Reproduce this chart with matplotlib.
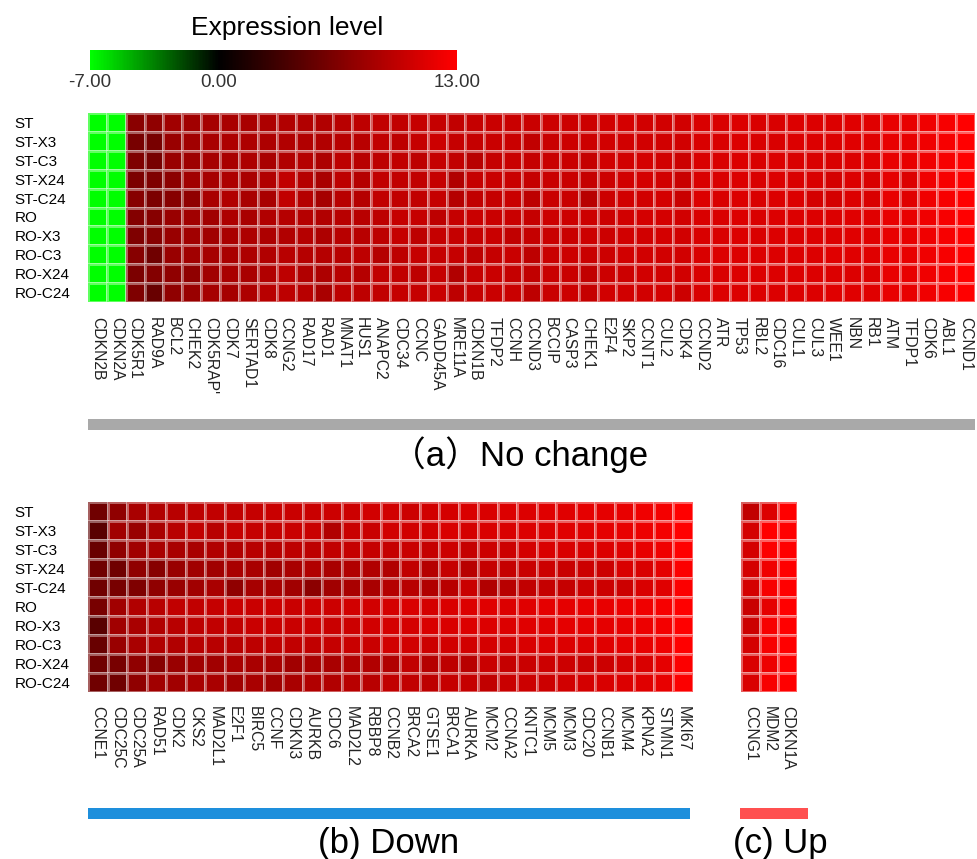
import numpy as np
import matplotlib
matplotlib.use("Agg")
import matplotlib.pyplot as plt
from matplotlib.colors import LinearSegmentedColormap, Normalize
from matplotlib.cm import ScalarMappable
from matplotlib.patches import Rectangle

plt.rcParams['font.family'] = ['Liberation Sans', 'Noto Sans CJK SC', 'DejaVu Sans']

samples = ["ST", "ST-X3", "ST-C3", "ST-X24", "ST-C24",
           "RO", "RO-X3", "RO-C3", "RO-X24", "RO-C24"]

# ---- (a) No change : gene -> values for the 10 samples ----
genes_a = ["CDKN2B", "CDKN2A", "CDK5R1", "RAD9A", "BCL2", "CHEK2", "CDK5RAP'", "CDK7",
           "SERTAD1", "CDK8", "CCNG2", "RAD17", "RAD1", "MNAT1", "HUS1", "ANAPC2",
           "CDC34", "CCNC", "GADD45A", "MRE11A", "CDKN1B", "TFDP2", "CCNH", "CCND3",
           "BCCIP", "CASP3", "CHEK1", "E2F4", "SKP2", "CCNT1", "CUL2", "CDK4",
           "CCND2", "ATR", "TP53", "RBL2", "CDC16", "CUL1", "CUL3", "WEE1", "NBN",
           "RB1", "ATM", "TFDP1", "CDK6", "ABL1", "CCND1"]
values_a = [
    [-7.0, -7.0, -7.0, -7.0, -7.0, -7.0, -7.0, -7.0, -7.0, -7.0],
    [-7.0, -7.0, -7.0, -7.0, -7.0, -7.0, -7.0, -7.0, -7.0, -7.0],
    [7.0, 6.1, 6.5, 6.3, 6.9, 6.7, 6.5, 6.9, 6.3, 6.5],
    [7.3, 6.1, 6.1, 6.5, 6.3, 6.9, 6.9, 5.7, 6.7, 5.3],
    [8.2, 7.8, 7.8, 7.1, 6.9, 7.8, 7.8, 7.8, 7.3, 7.3],
    [8.2, 8.2, 8.0, 8.2, 7.3, 8.2, 8.2, 8.2, 7.3, 7.8],
    [8.4, 8.6, 8.4, 8.4, 8.6, 8.2, 8.2, 8.4, 8.2, 8.4],
    [8.6, 8.8, 8.6, 8.8, 9.0, 8.8, 8.6, 8.6, 8.6, 8.4],
    [8.6, 8.8, 8.8, 8.6, 8.6, 8.6, 8.8, 8.8, 8.6, 8.8],
    [8.8, 8.8, 8.6, 9.0, 8.6, 9.0, 8.8, 9.0, 9.0, 9.4],
    [9.0, 9.0, 9.0, 9.8, 9.8, 9.2, 9.0, 9.4, 9.6, 9.6],
    [9.0, 9.0, 9.2, 9.2, 9.2, 9.2, 9.2, 9.2, 9.0, 9.4],
    [9.0, 9.0, 8.8, 8.6, 8.4, 9.0, 8.8, 9.2, 8.8, 8.6],
    [9.4, 9.4, 9.6, 9.6, 9.4, 9.4, 9.4, 9.4, 9.4, 9.6],
    [9.6, 9.4, 9.4, 9.2, 9.2, 9.4, 9.4, 9.6, 9.2, 9.6],
    [9.8, 9.8, 9.6, 9.8, 9.8, 9.6, 9.6, 9.2, 9.8, 9.8],
    [9.8, 9.6, 9.8, 9.8, 9.8, 10.0, 10.0, 9.6, 9.8, 10.0],
    [10.0, 10.0, 9.6, 9.8, 9.8, 10.0, 9.6, 10.0, 9.6, 10.0],
    [10.0, 10.4, 10.0, 10.0, 10.0, 9.6, 10.0, 10.0, 10.0, 10.2],
    [9.8, 10.0, 9.8, 9.0, 9.2, 10.0, 10.0, 10.0, 9.0, 9.6],
    [10.0, 10.0, 9.4, 10.0, 9.8, 10.2, 10.0, 9.6, 10.0, 10.0],
    [10.2, 10.2, 10.0, 10.2, 10.0, 10.2, 10.2, 10.0, 10.2, 10.2],
    [10.2, 10.2, 10.2, 10.2, 10.2, 10.2, 9.8, 10.2, 10.0, 10.2],
    [10.2, 9.8, 10.0, 10.0, 9.6, 10.0, 10.0, 9.6, 9.8, 9.6],
    [10.4, 10.2, 10.2, 10.2, 10.2, 10.4, 10.2, 10.2, 10.2, 10.2],
    [10.4, 10.4, 10.2, 10.2, 10.2, 10.4, 10.2, 10.4, 10.2, 10.4],
    [10.4, 10.4, 10.0, 10.0, 9.4, 10.4, 10.4, 10.2, 9.8, 10.0],
    [10.6, 10.6, 10.6, 10.4, 10.4, 10.4, 10.4, 10.4, 10.4, 10.6],
    [10.8, 10.6, 10.6, 10.6, 10.6, 10.6, 10.6, 10.6, 10.4, 10.6],
    [10.6, 10.6, 10.8, 10.8, 10.6, 10.8, 10.6, 10.6, 10.6, 10.6],
    [10.6, 10.6, 10.6, 10.6, 10.8, 10.8, 10.8, 10.6, 10.6, 10.8],
    [10.6, 10.6, 10.4, 10.2, 10.2, 10.6, 10.6, 10.6, 10.6, 10.4],
    [11.0, 11.0, 11.0, 11.0, 11.2, 11.0, 11.0, 11.0, 11.0, 11.0],
    [11.0, 11.0, 11.0, 11.0, 11.0, 11.0, 11.0, 11.2, 11.0, 11.2],
    [11.2, 11.2, 11.2, 11.2, 11.2, 11.2, 11.2, 11.2, 11.2, 11.2],
    [11.0, 11.0, 11.0, 11.0, 11.0, 11.0, 11.0, 11.2, 11.2, 11.2],
    [11.0, 11.0, 11.2, 11.2, 11.2, 11.2, 11.2, 11.2, 11.2, 11.2],
    [11.2, 11.2, 11.0, 11.0, 11.2, 11.2, 11.2, 11.2, 11.2, 11.2],
    [11.2, 11.2, 11.0, 11.0, 10.8, 11.2, 11.2, 11.2, 11.2, 11.2],
    [11.2, 11.2, 11.0, 10.8, 10.8, 11.2, 11.2, 11.4, 11.2, 11.4],
    [11.4, 11.4, 11.2, 11.2, 11.2, 11.4, 11.4, 11.4, 11.2, 11.4],
    [11.4, 11.4, 11.4, 11.0, 11.0, 11.4, 11.4, 11.4, 11.2, 11.4],
    [11.8, 11.8, 11.8, 11.6, 11.8, 11.8, 11.8, 11.8, 11.8, 11.8],
    [11.8, 11.8, 11.8, 11.2, 11.4, 11.8, 11.8, 11.8, 11.8, 11.8],
    [12.2, 12.2, 12.2, 12.2, 12.2, 12.2, 12.2, 12.2, 12.2, 12.2],
    [12.6, 12.6, 12.6, 12.6, 12.6, 12.6, 12.6, 12.6, 12.6, 12.6],
    [13.0, 13.0, 13.0, 13.0, 13.0, 13.0, 13.0, 13.0, 13.0, 13.0],
]

# ---- (b) Down ----
genes_b = ["CCNE1", "CDC25C", "CDC25A", "RAD51", "CDK2", "CKS2", "MAD2L1", "E2F1",
           "BIRC5", "CCNF", "CDKN3", "AURKB", "CDC6", "MAD2L2", "RBBP8", "CCNB2",
           "BRCA2", "GTSE1", "BRCA1", "AURKA", "MCM2", "CCNA2", "KNTC1", "MCM5",
           "MCM3", "CDC20", "CCNB1", "MCM4", "KPNA2", "STMN1", "MKI67"]
values_b = [
    [5.7, 4.5, 5.3, 5.7, 5.7, 6.1, 4.5, 5.3, 5.7, 5.7],
    [7.3, 8.2, 7.3, 5.7, 6.1, 8.2, 8.2, 7.8, 6.1, 5.7],
    [8.6, 7.8, 8.2, 7.3, 6.5, 9.0, 8.6, 8.6, 7.3, 7.3],
    [9.0, 8.6, 8.6, 6.9, 7.3, 9.4, 9.0, 9.0, 6.9, 8.2],
    [9.4, 9.4, 8.6, 7.8, 7.8, 9.8, 9.4, 9.0, 7.8, 8.2],
    [9.6, 9.8, 8.6, 8.2, 8.2, 9.8, 9.6, 9.4, 8.2, 8.6],
    [9.8, 9.4, 9.0, 8.2, 8.6, 10.0, 9.8, 9.4, 8.2, 8.6],
    [9.8, 10.0, 9.0, 8.6, 7.3, 10.2, 9.8, 9.4, 8.6, 8.2],
    [10.0, 10.0, 9.4, 8.6, 8.4, 10.2, 10.2, 9.6, 8.6, 8.6],
    [10.2, 10.0, 9.4, 8.2, 8.6, 10.4, 10.2, 9.8, 8.6, 8.2],
    [10.2, 10.2, 9.6, 8.6, 8.2, 10.2, 10.2, 9.8, 8.2, 8.6],
    [10.2, 10.2, 9.6, 9.0, 7.1, 10.4, 10.4, 9.8, 8.6, 9.0],
    [10.4, 9.0, 9.8, 8.6, 8.2, 10.4, 10.2, 10.0, 8.6, 9.0],
    [10.4, 10.2, 10.0, 9.0, 8.6, 10.6, 10.4, 10.2, 9.0, 9.4],
    [10.6, 10.2, 10.0, 9.0, 8.6, 10.6, 10.6, 10.2, 9.0, 9.4],
    [10.6, 10.6, 10.0, 9.0, 9.2, 10.8, 10.8, 10.6, 9.0, 9.8],
    [10.4, 10.6, 10.2, 9.8, 9.4, 11.0, 10.8, 10.6, 9.8, 9.8],
    [10.6, 10.6, 10.0, 9.2, 9.0, 10.8, 11.0, 10.4, 9.2, 9.6],
    [10.8, 11.0, 10.4, 10.0, 9.4, 11.0, 11.0, 10.6, 9.6, 10.0],
    [11.0, 10.8, 10.0, 9.4, 10.2, 11.2, 11.2, 10.6, 9.4, 10.0],
    [11.0, 11.0, 10.4, 10.0, 9.0, 11.4, 11.2, 10.8, 10.2, 9.8],
    [11.2, 11.0, 10.4, 10.0, 9.4, 11.2, 11.2, 10.8, 10.0, 10.2],
    [11.2, 11.2, 10.8, 10.2, 9.8, 11.4, 11.4, 11.0, 10.2, 10.4],
    [11.4, 11.2, 11.0, 10.4, 10.0, 11.6, 11.4, 11.2, 10.4, 10.4],
    [11.4, 11.4, 11.0, 10.2, 10.0, 11.6, 11.6, 11.2, 10.4, 10.6],
    [11.6, 11.4, 11.0, 10.4, 10.4, 11.8, 11.6, 11.2, 10.2, 10.8],
    [11.6, 11.6, 11.2, 10.4, 10.4, 11.8, 11.6, 11.4, 10.4, 11.0],
    [11.8, 11.8, 11.4, 11.0, 10.4, 12.0, 11.8, 11.6, 10.8, 11.2],
    [12.2, 12.0, 11.8, 11.0, 11.0, 12.2, 12.0, 11.8, 11.0, 11.4],
    [12.4, 12.4, 12.2, 11.6, 11.4, 12.6, 12.4, 12.2, 11.6, 11.8],
    [13.0, 13.0, 13.0, 12.8, 12.8, 13.0, 13.0, 13.0, 12.8, 12.8],
]

# ---- (c) Up ----
genes_c = ["CCNG1", "MDM2", "CDKN1A"]
values_c = [
    [9.8, 10.8, 10.8, 10.8, 10.8, 10.2, 10.4, 10.8, 11.0, 11.0],
    [11.2, 13.0, 12.8, 12.2, 12.6, 11.6, 12.6, 12.6, 12.0, 12.6],
    [13.0, 13.0, 13.0, 13.0, 13.0, 13.0, 13.0, 13.0, 13.0, 13.0],
]

vmin, vmax = -7.0, 13.0
cbar_ticks = [-7.0, 0.0, 13.0]

cmap = LinearSegmentedColormap.from_list(
    "gkr", [(0.0, "#00ff00"), ((0 - vmin) / (vmax - vmin), "#000000"), (1.0, "#ff0000")])
norm = Normalize(vmin=vmin, vmax=vmax)

W, H = 978, 859
fig = plt.figure(figsize=(W / 100, H / 100), dpi=100)

GENE_FONT = ['Liberation Sans Narrow', 'Liberation Sans', 'DejaVu Sans']


def box(x0, y0, x1, y1):
    """pixel box (top-left origin) -> figure fraction [left, bottom, width, height]"""
    return [x0 / W, 1 - y1 / H, (x1 - x0) / W, (y1 - y0) / H]


def heat(rect, genes, vals, show_rows=True, label_pad=11):
    ax = fig.add_axes(rect)
    data = np.array(vals).T  # rows = samples
    ax.pcolormesh(np.arange(len(genes) + 1), np.arange(len(samples) + 1), data,
                  cmap=cmap, norm=norm, edgecolors=(1, 1, 1, 0.38), linewidth=0.9)
    ax.set_xlim(0, len(genes))
    ax.set_ylim(len(samples), 0)
    for s in ax.spines.values():
        s.set_visible(False)
    ax.set_xticks(np.arange(len(genes)) + 0.5)
    ax.set_xticklabels(genes, rotation=-90, fontsize=11.3, color="#222222",
                       family=GENE_FONT)
    ax.tick_params(axis="x", length=0, pad=label_pad)
    if show_rows:
        ax.set_yticks(np.arange(len(samples)) + 0.5)
        ax.set_yticklabels(samples, fontsize=11, color="black", ha="left")
        ax.tick_params(axis="y", length=0, pad=53)
    else:
        ax.set_yticks([])
    return ax


heat(box(88, 113, 975, 302), genes_a, values_a)
heat(box(88, 502, 693, 692), genes_b, values_b, label_pad=10)
heat(box(741, 502, 797, 692), genes_c, values_c, show_rows=False, label_pad=10)

# colour bar
cax = fig.add_axes(box(90, 50, 457, 70))
cb = fig.colorbar(ScalarMappable(norm=norm, cmap=cmap), cax=cax, orientation="horizontal")
cb.outline.set_visible(False)
cb.set_ticks(cbar_ticks)
cb.set_ticklabels([f"{t:.2f}" for t in cbar_ticks])
cax.tick_params(length=0, labelsize=13.5, labelcolor="#333333", pad=3)
fig.text(287 / W, 1 - 28 / H, "Expression level", fontsize=19, ha="center", va="center")

# group bars and captions
def bar(x0, x1, y0, y1, color):
    fig.add_artist(Rectangle((x0 / W, 1 - y1 / H), (x1 - x0) / W, (y1 - y0) / H,
                             transform=fig.transFigure, color=color, lw=0))

bar(88, 975, 419, 430, "#a9a9a9")
bar(88, 690, 808, 819, "#1e8fdc")
bar(740, 808, 808, 819, "#ff5050")

fig.text(520 / W, 1 - 455 / H, "（a）No change", fontsize=25, ha="center", va="center")
fig.text(389 / W, 1 - 843 / H, "(b) Down", fontsize=25, ha="center", va="center")
fig.text(780 / W, 1 - 843 / H, "(c) Up", fontsize=25, ha="center", va="center")

fig.savefig("out.png", dpi=100)
